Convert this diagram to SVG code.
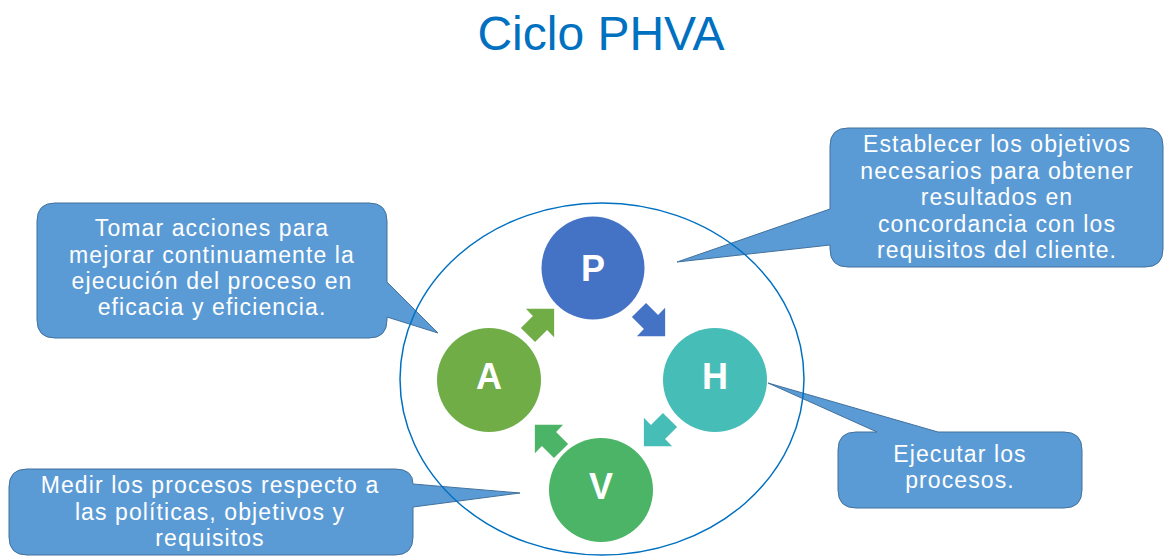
<svg xmlns="http://www.w3.org/2000/svg" width="1164" height="556" viewBox="0 0 1164 556">
<defs>
<style>
.title{font-family:"Liberation Sans",Arial,sans-serif;font-size:48px;fill:#0070C0;text-anchor:middle}
.call{fill:#5B9BD5;stroke:#41719C;stroke-width:1}
.ct{font-family:"Liberation Sans",Arial,sans-serif;font-size:23px;fill:#FFFFFF;text-anchor:middle;letter-spacing:1.1px}
.lt{font-family:"Liberation Sans",Arial,sans-serif;font-size:36px;font-weight:bold;fill:#FFFFFF;text-anchor:middle}
</style>
<path id="arr" d="M-17,-10 L0,-10 L0,-20 L20,0 L0,20 L0,10 L-17,10 Z"/>
</defs>
<rect width="1164" height="556" fill="#FFFFFF"/>
<text class="title" x="601" y="50">Ciclo PHVA</text>

<g id="callout-p">
<path class="call" d="M848,128 H1145 Q1163,128 1163,146 V249 Q1163,267 1145,267 H848 Q830,267 830,249 V245 L677,262 L830,209 V146 Q830,128 848,128 Z"/>
<text class="ct" x="997" y="152">Establecer los objetivos</text>
<text class="ct" x="997" y="178.5">necesarios para obtener</text>
<text class="ct" x="997" y="205">resultados en</text>
<text class="ct" x="997" y="231.5">concordancia con los</text>
<text class="ct" x="997" y="258">requisitos del cliente.</text>
</g>

<g id="callout-a">
<path class="call" d="M55,203 H369 Q387,203 387,221 V282 L438,333 L387,317 V320 Q387,338 369,338 H55 Q37,338 37,320 V221 Q37,203 55,203 Z"/>
<text class="ct" x="212" y="236">Tomar acciones para</text>
<text class="ct" x="212" y="262.5">mejorar continuamente la</text>
<text class="ct" x="212" y="289">ejecución del proceso en</text>
<text class="ct" x="212" y="315">eficacia y eficiencia.</text>
</g>

<g id="callout-v">
<path class="call" d="M27,469 H395 Q413,469 413,484 L520,493 L413,507 V537 Q413,555 395,555 H27 Q9,555 9,537 V487 Q9,469 27,469 Z"/>
<text class="ct" x="210" y="493">Medir los procesos respecto a</text>
<text class="ct" x="210" y="519.5">las políticas, objetivos y</text>
<text class="ct" x="210" y="546">requisitos</text>
</g>

<g id="callout-h">
<path class="call" d="M856,432 H877 L768,383 L938,432 H1064 Q1082,432 1082,450 V490 Q1082,508 1064,508 H856 Q838,508 838,490 V450 Q838,432 856,432 Z"/>
<text class="ct" x="960" y="462">Ejecutar los</text>
<text class="ct" x="960" y="488">procesos.</text>
</g>

<g id="cycle-boundary">
<ellipse cx="602" cy="379" rx="202" ry="176" fill="none" stroke="#0070C0" stroke-width="1.5"/>
</g>

<g id="connectors">
<use href="#arr" transform="translate(651,322) rotate(45)" fill="#4472C4"/>
<use href="#arr" transform="translate(658,432) rotate(135)" fill="#47BDB8"/>
<use href="#arr" transform="translate(549,439) rotate(225)" fill="#4BB466"/>
<use href="#arr" transform="translate(540,323) rotate(-45)" fill="#70AD47"/>
</g>

<g id="node-p">
<circle cx="593" cy="268" r="51.5" fill="#4472C4"/>
<text class="lt" x="593" y="281">P</text>
</g>
<g id="node-h">
<circle cx="715" cy="380" r="52" fill="#47BDB8"/>
<text class="lt" x="715" y="389">H</text>
</g>
<g id="node-v">
<circle cx="601" cy="490" r="52" fill="#4BB466"/>
<text class="lt" x="601" y="499">V</text>
</g>
<g id="node-a">
<circle cx="489" cy="380" r="52" fill="#70AD47"/>
<text class="lt" x="489" y="389">A</text>
</g>
</svg>
